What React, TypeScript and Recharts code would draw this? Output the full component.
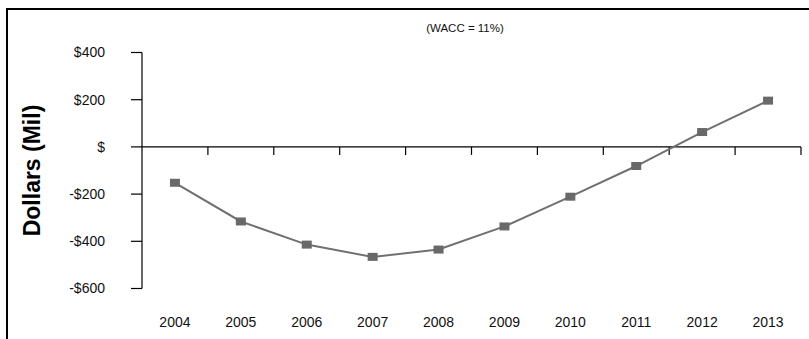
import { LineChart, Line, XAxis, YAxis, ReferenceLine } from 'recharts';

const years = ['2004', '2005', '2006', '2007', '2008', '2009', '2010', '2011', '2012', '2013'];
const values = [-152, -316, -414, -466, -435, -337, -211, -81, 63, 196];
const yTicks = [400, 200, 0, -200, -400, -600];

const FONT = '"Liberation Sans", Arial, sans-serif';

const data = years.map((year, i) => ({ year, value: values[i] }));

const fmtDollar = (v: number) => (v === 0 ? '$' : v < 0 ? `-$${-v}` : `$${v}`);

// zero line with tick marks at the category boundaries
const ZeroLine = (props: any) => {
  const { x1, y1, x2, y2 } = props;
  const step = (x2 - x1) / years.length;
  return (
    <g>
      <line x1={x1} y1={y1} x2={x2} y2={y2} stroke="#000" strokeWidth={1.2} />
      {years.map((_, k) => (
        <line
          key={k}
          x1={x1 + step * (k + 1)}
          x2={x1 + step * (k + 1)}
          y1={y1}
          y2={y1 + 8}
          stroke="#000"
          strokeWidth={1.2}
        />
      ))}
    </g>
  );
};

const Marker = (props: any) => {
  const { cx, cy, index } = props;
  return <rect key={`m-${index}`} x={cx - 5} y={cy - 4} width={10} height={8} fill="#696969" />;
};

export default function App() {
  return (
    <div style={{ position: 'absolute', left: 0, top: 0, width: 809, height: 339, background: '#fff', fontFamily: FONT }}>
      <div
        style={{
          position: 'absolute',
          left: 6,
          top: 8,
          width: 803,
          height: 331,
          borderLeft: '2px solid #000',
          borderTop: '2px solid #000',
        }}
      />
      <div
        style={{
          position: 'absolute',
          left: 365,
          width: 200,
          top: 22,
          textAlign: 'center',
          fontSize: 11.5,
          color: '#111',
        }}
      >
        (WACC = 11%)
      </div>
      <div style={{ position: 'absolute', left: 0, top: 0 }}>
        <LineChart width={809} height={339} data={data} margin={{ top: 52.5, right: 8, bottom: 0, left: 0 }}>
          <XAxis
            dataKey="year"
            type="category"
            scale="band"
            axisLine={false}
            tickLine={false}
            height={50.5}
            tickMargin={23}
            tick={{ fill: '#111', fontSize: 14, fontFamily: FONT }}
          />
          <YAxis
            type="number"
            domain={[-600, 400]}
            ticks={yTicks}
            width={142}
            tickSize={11}
            tickMargin={26}
            axisLine={{ stroke: '#000', strokeWidth: 1.2 }}
            tickLine={{ stroke: '#000', strokeWidth: 1.2 }}
            tickFormatter={fmtDollar}
            tick={{ fill: '#111', fontSize: 14, fontFamily: FONT }}
            label={{
              value: 'Dollars (Mil)',
              angle: -90,
              position: 'insideLeft',
              offset: 32,
              style: { textAnchor: 'middle', fontSize: 23, fontWeight: 'bold', fill: '#000', fontFamily: FONT },
            }}
          />
          <ReferenceLine y={0} shape={ZeroLine} ifOverflow="extendDomain" />
          <Line
            dataKey="value"
            stroke="#707070"
            strokeWidth={2}
            dot={Marker}
            activeDot={false}
            isAnimationActive={false}
          />
        </LineChart>
      </div>
    </div>
  );
}
